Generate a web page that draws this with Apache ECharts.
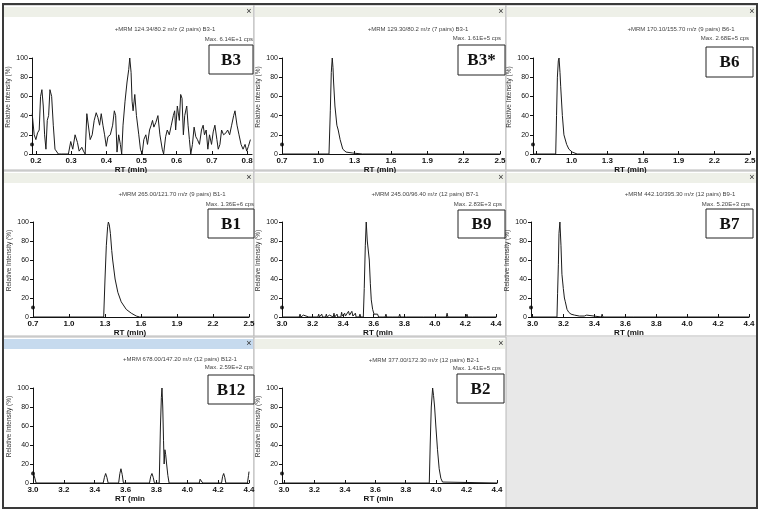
<!DOCTYPE html>
<html><head><meta charset="utf-8">
<script src="https://cdn.jsdelivr.net/npm/echarts@6/dist/echarts.min.js"></script>
<style>html,body{margin:0;padding:0;background:#fff}#c{width:762px;height:510px}</style>
</head><body><div id="c"></div>
<script>
// ---------- DATA ----------
const panelLabels = ['B3','B3*','B6','B1','B9','B7','B12','B2'];
const mrmTitles = [
  '+MRM 124.34/80.2 m/z (2 pairs) B3-1',
  '+MRM 129.30/80.2 m/z (7 pairs) B3-1',
  '+MRM 170.10/155.70 m/z (9 pairs) B6-1',
  '+MRM 265.00/121.70 m/z (9 pairs) B1-1',
  '+MRM 245.00/96.40 m/z (12 pairs) B7-1',
  '+MRM 442.10/395.30 m/z (12 pairs) B9-1',
  '+MRM 678.00/147.20 m/z (12 pairs) B12-1',
  '+MRM 377.00/172.30 m/z (12 pairs) B2-1'
];
const maxTexts = ['Max. 6.14E+1 cps','Max. 1.61E+5 cps','Max. 2.68E+5 cps','Max. 1.36E+6 cps',
  'Max. 2.83E+3 cps','Max. 5.20E+3 cps','Max. 2.59E+2 cps','Max. 1.41E+5 cps'];
const xNames = ['RT (min)','RT (min)','RT (min)','RT (min)','RT (min','RT (min','RT (min','RT (min'];
const yName = 'Relative Intensity (%)';
const ticksB3 = [0.2,0.3,0.4,0.5,0.6,0.7,0.8];
const ticksEarly = [0.7,1.0,1.3,1.6,1.9,2.2,2.5];
const ticksLate = [3.0,3.2,3.4,3.6,3.8,4.0,4.2,4.4];
const yTicks = [0,20,40,60,80,100];
const markerLevel = 10;

const b3RT = [0.1895,0.1952,0.2,0.2048,0.2095,0.2133,0.2171,0.221,0.2248,0.2286,
 0.2324,0.2362,0.24,0.2448,0.2495,0.2543,0.259,0.2638,0.2733,0.2829,
 0.2924,0.299,0.3048,0.3114,0.3181,0.3229,0.3305,0.3352,0.34,0.3448,
 0.3495,0.3543,0.36,0.3657,0.3714,0.3762,0.381,0.3857,0.3905,0.3952,
 0.4,0.4048,0.4114,0.4181,0.4229,0.4267,0.4305,0.4352,0.44,0.4438,
 0.4476,0.4533,0.459,0.4638,0.4667,0.4705,0.4733,0.4762,0.481,0.4857,
 0.4924,0.4971,0.5019,0.5067,0.5124,0.5171,0.5229,0.5276,0.5314,0.5352,
 0.541,0.5467,0.5524,0.559,0.5629,0.5686,0.5733,0.579,0.5848,0.5905,
 0.5943,0.5971,0.6019,0.6076,0.6114,0.6152,0.619,0.6229,0.6286,0.6324,
 0.6362,0.64,0.6448,0.6495,0.6543,0.659,0.6648,0.6705,0.6752,0.679,
 0.6838,0.6886,0.6933,0.699,0.7038,0.7086,0.7143,0.7181,0.7229,0.7276,
 0.7333,0.74,0.7448,0.7505,0.7562,0.7619,0.7657,0.7714,0.7771,0.7829,
 0.7886,0.7943,0.799,0.8038,0.8095];
const b3Int = [42,20,15,22,25,60,67,50,20,5, 35,40,67,60,30,5,3,0,0,0,
 0,13,5,20,12,3,7,3,0,42, 40,15,20,35,43,38,30,42,30,20,
 8,18,20,30,45,40,2,20,10,0, 30,55,75,88,100,85,55,45,62,40,
 20,5,0,15,20,10,25,30,35,28, 33,40,20,5,0,18,25,20,30,40,
 45,25,50,35,62,58,20,40,50,30, 15,0,10,28,18,15,10,25,30,20,
 25,5,20,10,23,30,15,5,10,25, 20,22,25,20,30,40,45,30,20,10,
 5,10,3,8,15];

const b3sRT = [0.7,1.088,1.099,1.107,1.115,1.121,1.126,1.137,1.153,1.164,1.18,1.202,1.229,1.284,1.365,2.5];
const b3sInt = [0,0,45,85,100,90,75,50,30,25,15,5,2,1,0,0];

const b6RT = [0.675,0.866,0.873,0.88,0.888,0.894,0.902,0.908,0.922,0.935,0.958,0.977,1.005,1.046,2.5];
const b6Int = [0,0,40,80,97,100,85,70,40,20,10,5,2,0,0];

const b1RT = [0.7,1.289,1.3,1.311,1.322,1.328,1.336,1.345,1.356,1.364,1.384,1.407,1.435,1.477,1.519,1.561,1.589,2.5];
const b1Int = [0,0,40,75,95,100,97,88,70,60,40,26,16,8,4,1,0,0];

const b9RT = [3.0,3.113,3.118,3.123,3.135,3.14,3.145,3.175,3.18,3.185,3.235,3.24,3.245,3.255,3.26,3.265,
 3.285,3.29,3.295,3.305,3.31,3.315,3.335,3.34,3.345,3.355,3.36,3.365,3.385,3.39,3.395,3.405,3.41,3.415,
 3.428,3.435,3.442,3.45,3.457,3.464,3.475,3.48,3.485,3.505,3.51,3.515,
 3.532,3.538,3.545,3.551,3.558,3.564,3.571,3.578,3.584,3.593,3.602,3.613,
 3.625,3.632,3.655,3.66,3.665,3.675,3.68,3.685,3.725,3.73,3.735,3.765,3.77,3.775,3.815,3.82,3.825,
 3.925,3.93,3.935,4.005,4.01,4.015,4.075,4.08,4.085,4.205,4.21,4.215,4.245,4.25,4.255,4.335,4.34,4.345,4.4];
const b9Int = [0,0,3,0,0,2,0,0,2,0,0,3,0,0,3,0,
 0,3,0,0,2,0,0,4,0,0,3,0,0,5,1,1,4,1,
 1,6,2,2,6,1,0,4,0,0,3,0,
 0,30,75,100,80,78,60,35,18,8,3,1,
 3,0,0,2,0,0,3,0,0,2,0,0,3,0,0,2,0,
 0,2,0,0,2,0,0,4,0,0,3,0,0,2,0,0,2,0,0];

const b7RT = [2.99,3.158,3.162,3.167,3.171,3.177,3.184,3.19,3.199,3.206,3.212,3.223,3.234,3.249,3.271,3.303,3.335,
 3.345,3.35,3.355,3.445,3.45,3.455,3.655,3.66,3.665,3.695,3.7,3.705,3.915,3.92,3.925,4.4];
const b7Int = [0,0,25,55,88,100,75,45,30,20,16,8,5,3,2,1,1, 0,2,0,0,3,0,0,2,0,0,2,0,0,1,0,0];

const b12RT = [3.0,3.005,3.012,3.02,3.455,3.463,3.471,3.479,3.487,3.555,3.563,3.57,3.578,3.586,
 3.755,3.763,3.771,3.779,3.787,3.818,3.826,3.832,3.836,3.841,3.846,3.85,3.855,3.86,3.866,3.874,3.882,
 4.078,4.083,4.087,4.093,4.1,4.222,4.229,4.236,4.243,4.25,4.39,4.397,4.4];
const b12Int = [12,12,5,0,0,6,10,6,0,0,10,15,9,0,
 0,7,10,6,0,0,60,90,100,80,45,20,35,30,20,8,0,
 0,4,5,3,0,0,7,10,6,0,0,8,12];

const b2RT = [2.987,3.955,3.961,3.968,3.977,3.983,3.99,3.998,4.009,4.02,4.031,4.042,4.053,4.4];
const b2Int = [0,0,40,80,100,92,80,60,35,15,5,1,0,0];

// ---------- LAYOUT ----------
const seriesRT = [b3RT,b3sRT,b6RT,b1RT,b9RT,b7RT,b12RT,b2RT];
const seriesInt = [b3Int,b3sInt,b6Int,b1Int,b9Int,b7Int,b12Int,b2Int];
const xTicks = [ticksB3,ticksEarly,ticksEarly,ticksEarly,ticksLate,ticksLate,ticksLate,ticksLate];
const xMin = [0.189,0.7,0.675,0.7,3.0,2.99,3.0,2.987];
const xMax = [0.814,2.5,2.5,2.5,4.4,4.4,4.4,4.4];
const grids = [
  {left:32, top:58, width:220, height:96},
  {left:282, top:58, width:218, height:96},
  {left:533, top:58, width:217, height:96},
  {left:33, top:222, width:216, height:95},
  {left:282, top:222, width:214, height:95},
  {left:531, top:222, width:218, height:95},
  {left:33, top:388, width:216, height:95},
  {left:282, top:388, width:215, height:95}
];
const titlePos = [[165,29],[418,29],[681,29],[172,194],[425,194],[680,194],[180,359],[424,360]];
const maxPos = [[253,39],[501,38],[749,38],[254,204],[502,204],[750,204],[253,367],[501,368]];
const boxes = [[209,45,44,29],[458,45,47,30],[706,47,47,30],[208,209,46,29],[458,210,47,28],[706,209,47,29],[208,375,46,29],[457,374,47,29]];
const frames = [[3,5,251,165],[254,5,252,165],[506,5,251,165],[3,171,251,165],[254,171,252,165],[506,171,251,165],[3,337,251,171],[254,337,252,171]];

const chart = echarts.init(document.getElementById('c'), null, {renderer:'canvas'});
const fmt = v => (Math.round(v*10)/10).toFixed(1);

const xAxes = [], yAxes = [], series = [], graphic = [];

// frames & headers
graphic.push({type:'rect', shape:{x:506,y:337,width:251,height:171}, style:{fill:'#e8e8e8'}, z:0, silent:true});
frames.forEach((f,i)=>{
  graphic.push({type:'rect', shape:{x:f[0],y:f[1],width:f[2],height:f[3]}, style:{fill:'#fff',stroke:'#b8b8b8',lineWidth:1}, z:0, silent:true});
  graphic.push({type:'rect', shape:{x:f[0]+1,y:f[1]+2,width:f[2]-2,height:10}, style:{fill: i===6 ? '#c6daee' : '#eef0e8'}, z:1, silent:true});
  graphic.push({type:'text', x:f[0]+f[2]-5, y:f[1]+7, style:{text:'×', fill:'#333', font:'9px "Liberation Sans"', align:'center', verticalAlign:'middle'}, z:5, silent:true});
});
graphic.push({type:'rect', shape:{x:3,y:4,width:754,height:504}, style:{fill:null,stroke:'#3a3a3a',lineWidth:2}, z:20, silent:true});

grids.forEach((g,i)=>{
  xAxes.push({
    type:'value', gridIndex:i, min:xMin[i], max:xMax[i],
    name:xNames[i], nameLocation:'middle', nameGap:12,
    nameTextStyle:{fontSize:8, fontWeight:'bold', color:'#111', fontFamily:'Liberation Sans', padding:[0,22,0,0]},
    axisLine:{show:true, onZero:false, lineStyle:{color:'#111', width:1}},
    axisTick:{show:true, inside:true, length:3, customValues:xTicks[i], lineStyle:{color:'#111'}},
    axisLabel:{show:true, customValues:xTicks[i], formatter:fmt, fontSize:8, color:'#111', margin:3, fontFamily:'Liberation Sans', fontWeight:'bold'},
    splitLine:{show:false}
  });
  yAxes.push({
    type:'value', gridIndex:i, min:0, max:100, interval:20,
    name:yName, nameLocation:'middle', nameGap:20,
    nameTextStyle:{fontSize:6.5, color:'#333', fontFamily:'Liberation Sans', padding:[0,0,0,18]},
    axisLine:{show:true, lineStyle:{color:'#111', width:1}},
    axisTick:{show:true, length:3, lineStyle:{color:'#111'}},
    minorTick:{show:false},
    axisLabel:{fontSize:7, color:'#111', margin:4, fontFamily:'Liberation Sans'},
    splitLine:{show:false}
  });
  series.push({
    type:'line', xAxisIndex:i, yAxisIndex:i, showSymbol:false, animation:false,
    lineStyle:{color:'#1c1c1c', width:1}, z:3,
    data: seriesRT[i].map((x,k)=>[x, seriesInt[i][k]])
  });
  series.push({
    type:'scatter', xAxisIndex:i, yAxisIndex:i, symbol:'circle', symbolSize:4, animation:false,
    itemStyle:{color:'#000'}, z:4, data:[[xMin[i], markerLevel]]
  });
  graphic.push({type:'text', x:titlePos[i][0], y:titlePos[i][1], style:{text:mrmTitles[i], fill:'#444', font:'6px "Liberation Sans"', align:'center', verticalAlign:'middle'}, z:10, silent:true});
  graphic.push({type:'text', x:maxPos[i][0], y:maxPos[i][1], style:{text:maxTexts[i], fill:'#444', font:'6px "Liberation Sans"', align:'right', verticalAlign:'middle'}, z:10, silent:true});
  const b = boxes[i];
  graphic.push({type:'rect', shape:{x:b[0],y:b[1],width:b[2],height:b[3]}, style:{fill:'#fff', stroke:'#222', lineWidth:1}, z:12, silent:true});
  graphic.push({type:'text', x:b[0]+b[2]/2, y:b[1]+b[3]/2+1, style:{text:panelLabels[i], fill:'#111', font:'bold 17px "Liberation Serif"', align:'center', verticalAlign:'middle'}, z:13, silent:true});
});

chart.setOption({
  backgroundColor:'#ffffff',
  animation:false,
  grid: grids.map(g=>Object.assign({containLabel:false}, g)),
  xAxis: xAxes, yAxis: yAxes, series: series, graphic: graphic
});
</script></body></html>
